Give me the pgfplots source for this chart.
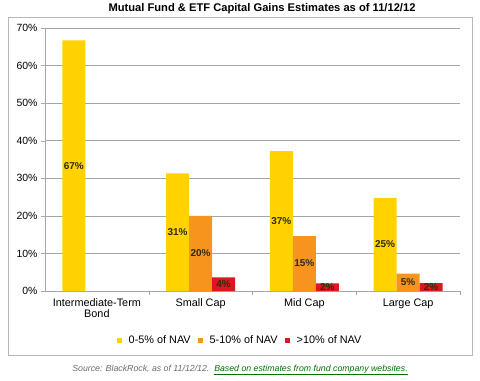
\documentclass[border=0pt]{standalone}
\usepackage{fontspec}
\setmainfont{Liberation Sans}
\usepackage{pgfplots}
\pgfplotsset{compat=1.18}
\definecolor{cyel}{HTML}{FFD200}
\definecolor{cora}{HTML}{F7941D}
\definecolor{cred}{HTML}{E0161F}
\definecolor{gridgray}{HTML}{A6A6A6}
\definecolor{lbl}{HTML}{2E2A10}
\begin{document}
\begin{tikzpicture}[x=1bp,y=1bp]
\path[use as bounding box] (-45,-89) rectangle (435,291);
\draw[gridgray!80, line width=0.8bp] (-37,-64) rectangle (427,274);
\node[font=\bfseries\fontsize{11.2}{12}\selectfont] at (217,282) {Mutual Fund \& ETF Capital Gains Estimates as of 11/12/12};
\node[font=\itshape\fontsize{8.8}{9.5}\selectfont, text=gray!85!black] at (195,-79) {Source: BlackRock, as of 11/12/12.\ \ \textcolor{green!45!black}{\underline{Based on estimates from fund company websites.}}};
\begin{axis}[
  at={(0,0)}, anchor=south west,
  scale only axis, width=415bp, height=263bp,
  ybar=0pt, bar width=23bp,
  xmin=-0.5, xmax=3.5, ymin=0, ymax=70,
  xtick={0,1,2,3},
  xticklabels={{Intermediate-Term\\Bond},{Small Cap},{Mid Cap},{Large Cap}},
  xticklabel style={align=center, font=\fontsize{10.9}{11.5}\selectfont},
  major x tick style={draw=none},
  minor xtick={0.5,1.5,2.5,3.5},
  minor tick length=4bp,
  ytick={0,10,...,70},
  yticklabel={\pgfmathprintnumber{\tick}\%},
  yticklabel style={font=\fontsize{10.5}{11}\selectfont},
  /pgf/number format/assume math mode=true,
  tick align=outside, major tick length=4bp,
  axis x line*=bottom, axis y line*=left,
  axis line style={gridgray, -},
  tick style={gridgray},
  ymajorgrids, grid style={gridgray, line width=0.6bp},
  enlargelimits=false, clip=false,
  legend columns=3,
  legend style={at={(0.47,-0.155)}, anchor=north, draw=none, fill=none,
    font=\fontsize{10.9}{11.5}\selectfont, column sep=5bp},
  legend image code/.code={\fill[#1] (0bp,-2.5bp) rectangle (5bp,2.5bp);},
  visualization depends on=rawy\as\rawy,
  nodes near coords={\pgfmathprintnumber[fixed,precision=0]{\pgfplotspointmeta}\%},
  every node near coord/.append style={anchor=center, text=lbl,
    font=\bfseries\fontsize{10}{11}\selectfont, inner sep=0pt,
    shift={(axis direction cs:0,-\rawy/2)}},
]
\addplot[fill=cyel, draw=none] coordinates {(0,66.7) (1,31.3) (2,37.2) (3,24.8)};
\addplot[fill=cora, draw=none] coordinates {(1,20.0) (2,14.6) (3,4.6)};
\addplot[fill=cred, draw=none] coordinates {(1,3.6) (2,2.0) (3,2.1)};
\legend{0-5\% of NAV, 5-10\% of NAV, >10\% of NAV}
\end{axis}
\end{tikzpicture}
\end{document}
